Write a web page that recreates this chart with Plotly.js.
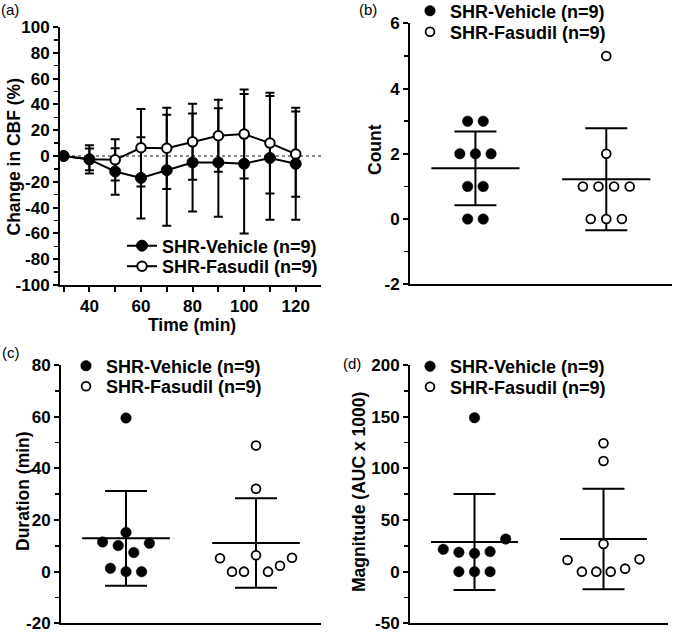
<!DOCTYPE html>
<html><head><meta charset="utf-8">
<script src="https://cdn.plot.ly/plotly-3.0.1.min.js"></script>
<style>html,body{margin:0;padding:0;background:#fff}#chart{width:675px;height:633px}</style>
</head><body><div id="chart"></div>
<script>
// ---------- data ----------
// Panel (a): change in CBF over time (mean, SD)
const timeMin = [30, 40, 50, 60, 70, 80, 90, 100, 110, 120];
const cbfVehicleMean = [0, -2.6, -12, -17, -11, -5, -5, -6, -1.5, -6];
const cbfVehicleSD   = [0, 11, 18, 31.5, 43, 38, 42, 54, 48, 43.5];
const cbfFasudilMean = [0, -2.6, -3, 6.4, 6, 11, 15.7, 17, 10, 1.5];
const cbfFasudilSD   = [0, 8.5, 16, 30, 31.5, 29.5, 28, 34.5, 39, 33];

// Panels (b)-(d): individual animals
const groupNames = ['SHR-Vehicle (n=9)', 'SHR-Fasudil (n=9)'];
const countVehicle = [3, 3, 2, 2, 2, 1, 1, 0, 0];
const countFasudil = [5, 2, 1, 1, 1, 1, 0, 0, 0];
const durationVehicle = [59.5, 15.2, 11.5, 10.1, 7.4, 11.0, 1.3, 0, 0];
const durationFasudil = [48.8, 32.1, 5.2, 0, 0, 6.3, 0, 2.3, 5.4];
const magnitudeVehicle = [149.0, 21.6, 18.7, 17.7, 19.4, 31.6, 0, 0, 0];
const magnitudeFasudil = [124.2, 107.1, 26.8, 11.3, 0, 0, 0, 2.9, 11.9];

// tick labels and axis titles
const cbfTicks = [-100, -80, -60, -40, -20, 0, 20, 40, 60, 80, 100];
const timeTicks = [40, 60, 80, 100, 120];
const countTicks = [-2, 0, 2, 4, 6];
const durationTicks = [-20, 0, 20, 40, 60, 80];
const magnitudeTicks = [-50, 0, 50, 100, 150, 200];
const axisTitles = {
  aY: 'Change in CBF (%)', aX: 'Time (min)', bY: 'Count',
  cY: 'Duration (min)', dY: 'Magnitude (AUC x 1000)'
};
const panelLabels = ['(a)', '(b)', '(c)', '(d)'];

// ---------- layout helpers ----------
const W = 675, H = 633;
const FONT = 'Liberation Sans, Arial, Helvetica, sans-serif';
const tickFont = {family: FONT, size: 17, color: '#000', weight: 'bold'};
const titleFont = {family: FONT, size: 17.5, color: '#000', weight: 'bold'};
const legendFont = {family: FONT, size: 18, color: '#000', weight: 'bold'};
const xd = (a, b) => [a / W, b / W];
const yd = (top, bottom) => [1 - bottom / H, 1 - top / H];

const P = {
  a: {x: xd(60, 321), y: yd(27, 285), xr: [28.6, 129.8], yr: [-100, 100]},
  b: {x: xd(410, 671.7), y: yd(23.3, 284.3), xr: [-0.5, 1.5], yr: [-2, 6]},
  c: {x: xd(61, 321), y: yd(365, 623.3), xr: [-0.5, 1.5], yr: [-20, 80]},
  d: {x: xd(410, 668), y: yd(365, 623.3), xr: [-0.5, 1.5], yr: [-50, 200]}
};

function yAxis(p, ticks, minorStep, anchor) {
  return {
    domain: p.y, range: p.yr, anchor: anchor,
    tickmode: 'array', tickvals: ticks, ticktext: ticks.map(String),
    ticks: 'outside', ticklen: 5, tickwidth: 2, tickcolor: '#000',
    showline: true, linewidth: 2, linecolor: '#000',
    showgrid: false, zeroline: false, tickfont: tickFont,
    ticklabeloverflow: 'allow',
    minor: {tickmode: 'linear', tick0: 0, dtick: minorStep, ticks: 'outside',
            ticklen: 4, tickwidth: 1.5, tickcolor: '#000', showgrid: false},
    fixedrange: true
  };
}
function catAxis(p, anchor) {
  return {
    domain: p.x, range: p.xr, anchor: anchor,
    showline: true, linewidth: 2, linecolor: '#000',
    ticks: '', showticklabels: false, showgrid: false, zeroline: false,
    fixedrange: true
  };
}

// beeswarm (row based, centered rows)
const ROW_PX = 17, SPACING_PX = 15.6, MAX_SPREAD_PX = 72;
function swarm(values, p) {
  const pxY = (p.y[1] - p.y[0]) * H / (p.yr[1] - p.yr[0]);
  const pxX = (p.x[1] - p.x[0]) * W / (p.xr[1] - p.xr[0]);
  const idx = values.map((v, i) => i).sort((a, b) => values[a] - values[b] || a - b);
  const off = new Array(values.length).fill(0);
  let k = 0;
  while (k < idx.length) {
    const start = values[idx[k]];
    const row = [];
    while (k < idx.length && (values[idx[k]] - start) * pxY < ROW_PX) { row.push(idx[k]); k++; }
    row.sort((a, b) => a - b);
    const n = row.length;
    const step = n > 1 ? Math.min(SPACING_PX, MAX_SPREAD_PX / (n - 1)) : 0;
    row.forEach((i, j) => { off[i] = (j - (n - 1) / 2) * step / pxX; });
  }
  return off;
}
const mean = a => a.reduce((s, v) => s + v, 0) / a.length;
const sd = a => { const m = mean(a); return Math.sqrt(a.reduce((s, v) => s + (v - m) * (v - m), 0) / (a.length - 1)); };

const filledMk = {symbol: 'circle', size: 10.5, color: '#000', line: {color: '#000', width: 0.5}};
const openMk = {symbol: 'circle', size: 8.8, color: '#fff', line: {color: '#000', width: 1.8}};

function scatterPanel(p, vehicle, fasudil, xa, ya, legV, legF) {
  const out = [];
  [vehicle, fasudil].forEach((vals, g) => {
    const m = mean(vals), s = sd(vals), half = 0.337;
    out.push({type: 'scatter', mode: 'lines', x: [g - half, g + half], y: [m, m],
      xaxis: xa, yaxis: ya, line: {color: '#000', width: 2}, showlegend: false, hoverinfo: 'skip'});
    out.push({type: 'scatter', mode: 'markers', x: [g], y: [m], xaxis: xa, yaxis: ya,
      marker: {size: 2, opacity: 0},
      error_y: {type: 'data', array: [s], visible: true, width: 21, thickness: 2, color: '#000'},
      showlegend: false, hoverinfo: 'skip'});
  });
  [vehicle, fasudil].forEach((vals, g) => {
    const off = swarm(vals, p);
    out.push({type: 'scatter', mode: 'markers', name: groupNames[g],
      x: vals.map((v, i) => g + off[i]), y: vals, xaxis: xa, yaxis: ya,
      marker: g === 0 ? filledMk : openMk,
      legend: g === 0 ? legV : legF, showlegend: true});
  });
  return out;
}

// ---------- traces ----------
const traces = [];
// panel (a)
traces.push({type: 'scatter', mode: 'markers', x: timeMin, y: cbfVehicleMean, xaxis: 'x', yaxis: 'y',
  marker: {size: 2, opacity: 0}, showlegend: false, hoverinfo: 'skip',
  error_y: {type: 'data', array: cbfVehicleSD, visible: true, width: 4.5, thickness: 2, color: '#000'}});
traces.push({type: 'scatter', mode: 'markers', x: timeMin, y: cbfFasudilMean, xaxis: 'x', yaxis: 'y',
  marker: {size: 2, opacity: 0}, showlegend: false, hoverinfo: 'skip',
  error_y: {type: 'data', array: cbfFasudilSD, visible: true, width: 4.5, thickness: 2, color: '#000'}});
traces.push({type: 'scatter', mode: 'lines+markers', name: groupNames[1], x: timeMin, y: cbfFasudilMean,
  xaxis: 'x', yaxis: 'y', line: {color: '#000', width: 2},
  marker: {symbol: 'circle', size: 9.5, color: '#fff', line: {color: '#000', width: 2}}, legend: 'legend2'});
traces.push({type: 'scatter', mode: 'lines+markers', name: groupNames[0], x: timeMin, y: cbfVehicleMean,
  xaxis: 'x', yaxis: 'y', line: {color: '#000', width: 2},
  marker: {symbol: 'circle', size: 11, color: '#000', line: {color: '#000', width: 1}}, legend: 'legend'});
// panels (b)-(d)
traces.push(...scatterPanel(P.b, countVehicle, countFasudil, 'x2', 'y2', 'legend3', 'legend4'));
traces.push(...scatterPanel(P.c, durationVehicle, durationFasudil, 'x3', 'y3', 'legend5', 'legend6'));
traces.push(...scatterPanel(P.d, magnitudeVehicle, magnitudeFasudil, 'x4', 'y4', 'legend7', 'legend8'));

function legendAt(markerX, centerY) {
  return {x: (markerX - 20) / W, y: 1 - centerY / H, xanchor: 'left', yanchor: 'middle',
    bgcolor: 'rgba(0,0,0,0)', borderwidth: 0, font: legendFont,
    itemclick: false, itemdoubleclick: false};
}

function note(text, px, py, opts) {
  return Object.assign({text: text, x: px / W, y: 1 - py / H, xref: 'paper', yref: 'paper',
    showarrow: false, xanchor: 'center', yanchor: 'middle'}, opts);
}
const regFont = {family: FONT, size: 15, color: '#000'};

const layout = {
  width: W, height: H, margin: {l: 0, r: 0, t: 0, b: 0, autoexpand: false},
  paper_bgcolor: '#fff', plot_bgcolor: '#fff',
  font: {family: FONT, color: '#000'},
  xaxis: {domain: P.a.x, range: P.a.xr, anchor: 'y',
    tickmode: 'array', tickvals: timeTicks, ticktext: timeTicks.map(String),
    ticks: 'outside', ticklen: 5, tickwidth: 2, tickcolor: '#000',
    showline: true, linewidth: 2, linecolor: '#000', showgrid: false, zeroline: false,
    tickfont: tickFont,
    minor: {tickmode: 'linear', tick0: 30, dtick: 10, ticks: 'outside', ticklen: 5, tickwidth: 2, tickcolor: '#000', showgrid: false},
    fixedrange: true},
  yaxis: yAxis(P.a, cbfTicks, 10, 'x'),
  xaxis2: catAxis(P.b, 'y2'),
  yaxis2: yAxis(P.b, countTicks, 1, 'x2'),
  xaxis3: catAxis(P.c, 'y3'),
  yaxis3: yAxis(P.c, durationTicks, 10, 'x3'),
  xaxis4: catAxis(P.d, 'y4'),
  yaxis4: yAxis(P.d, magnitudeTicks, 25, 'x4'),
  legend: legendAt(142, 246),
  legend2: legendAt(142, 266.5),
  legend3: legendAt(430, 11),
  legend4: legendAt(430, 32),
  legend5: legendAt(86, 366),
  legend6: legendAt(86, 386.5),
  legend7: legendAt(430, 366.5),
  legend8: legendAt(430, 387),
  shapes: [{type: 'line', xref: 'x domain', x0: 0, x1: 1, yref: 'y', y0: 0, y1: 0,
    line: {color: '#666', width: 1.5, dash: 'dot'}, layer: 'below'}],
  annotations: [
    note(panelLabels[0], 10, 9, {font: regFont}),
    note(panelLabels[1], 368, 10, {font: regFont}),
    note(panelLabels[2], 11, 353, {font: regFont}),
    note(panelLabels[3], 352, 363, {font: regFont}),
    note(axisTitles.aY, 13, 156.5, {font: titleFont, textangle: -90}),
    note(axisTitles.aX, 192, 325, {font: titleFont}),
    note(axisTitles.bY, 375, 150, {font: titleFont, textangle: -90}),
    note(axisTitles.cY, 23, 491, {font: titleFont, textangle: -90}),
    note(axisTitles.dY, 359, 492, {font: titleFont, textangle: -90})
  ],
  showlegend: true,
  hovermode: false
};

Plotly.newPlot('chart', traces, layout, {staticPlot: true, displayModeBar: false});
</script>
</body></html>
